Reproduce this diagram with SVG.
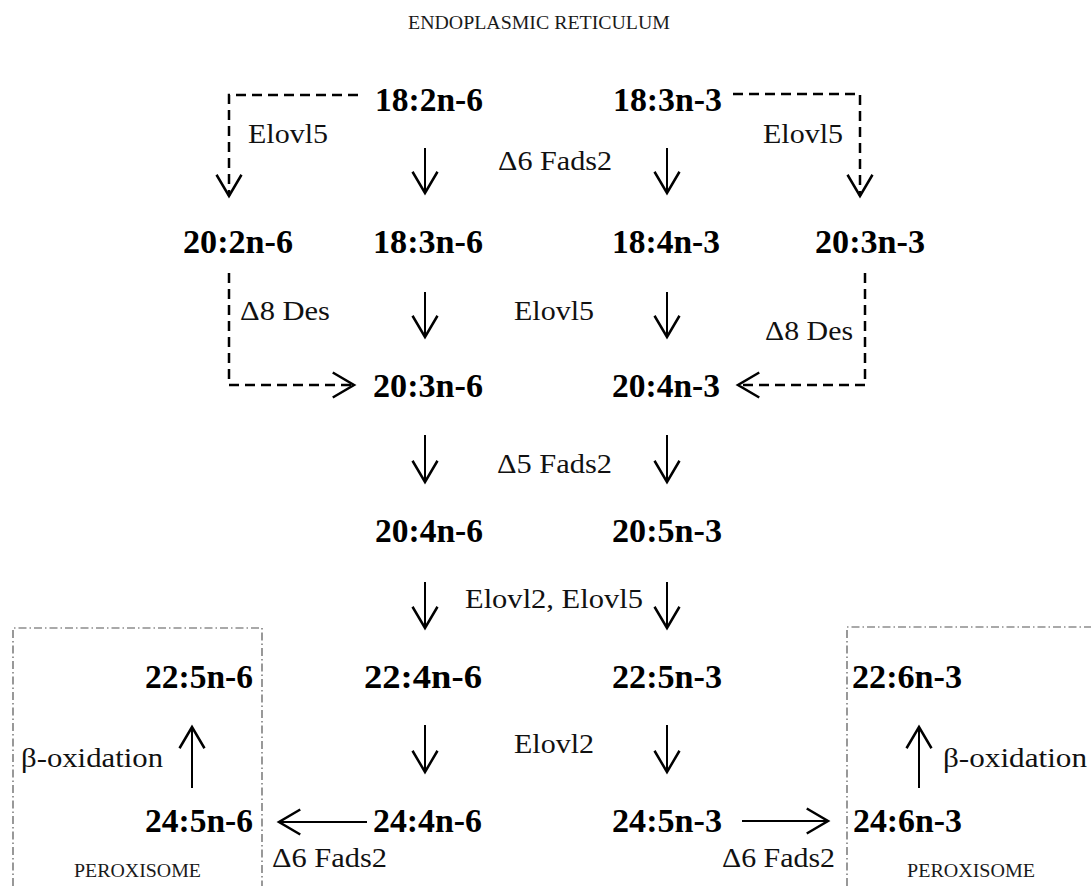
<svg xmlns="http://www.w3.org/2000/svg" width="1091" height="886" viewBox="0 0 1091 886">
<style>
text{font-family:"Liberation Serif",serif}
.node{font-weight:bold;font-size:34px;fill:#000}
.lbl{font-size:27px;fill:#111}
.cap{font-size:19px;fill:#1a1a1a}
.solid{fill:none;stroke:#000;stroke-width:2}
.dash{fill:none;stroke:#000;stroke-width:2.5;stroke-dasharray:10 6}
.box{fill:none;stroke:#555;stroke-width:1.2;stroke-dasharray:8 3 1.5 3}
</style>
<defs>
<marker id="ah" markerUnits="userSpaceOnUse" markerWidth="30" markerHeight="30" viewBox="-20 -12 22 24" refX="0" refY="0" orient="auto">
<path d="M-17,-10 L0,0 L-17,10" fill="none" stroke="#000" stroke-width="2"/>
</marker>
</defs>
<rect width="1091" height="886" fill="#fff"/>
<text class="cap" x="408" y="29" textLength="262" lengthAdjust="spacingAndGlyphs">ENDOPLASMIC RETICULUM</text>
<g id="compartments">
<path class="box" d="M13,886 V628 H262 V886"/>
<path class="box" d="M847,886 V627 H1091"/>
<text class="cap" x="74" y="877" font-size="17" textLength="127" lengthAdjust="spacingAndGlyphs">PEROXISOME</text>
<text class="cap" x="907" y="877" font-size="17" textLength="128" lengthAdjust="spacingAndGlyphs">PEROXISOME</text>
</g>
<g id="connectors">
<path class="dash" d="M358,95 H229 V196" marker-end="url(#ah)"/>
<path class="dash" d="M733,94 H860 V196" marker-end="url(#ah)"/>
<path class="dash" d="M229,273 V385 H354" marker-end="url(#ah)"/>
<path class="dash" d="M865,273 V385 H738" marker-end="url(#ah)"/>
<path class="solid" d="M425,148 V193" marker-end="url(#ah)"/>
<path class="solid" d="M667,148 V193" marker-end="url(#ah)"/>
<path class="solid" d="M425,292 V337" marker-end="url(#ah)"/>
<path class="solid" d="M667,292 V337" marker-end="url(#ah)"/>
<path class="solid" d="M425,435 V482" marker-end="url(#ah)"/>
<path class="solid" d="M667,435 V482" marker-end="url(#ah)"/>
<path class="solid" d="M425,582 V628" marker-end="url(#ah)"/>
<path class="solid" d="M667,582 V628" marker-end="url(#ah)"/>
<path class="solid" d="M425,725 V772" marker-end="url(#ah)"/>
<path class="solid" d="M667,725 V772" marker-end="url(#ah)"/>
<path class="solid" d="M367,822 H279" marker-end="url(#ah)"/>
<path class="solid" d="M742,821 H828" marker-end="url(#ah)"/>
<path class="solid" d="M192,788 V727" marker-end="url(#ah)"/>
<path class="solid" d="M919,788 V727" marker-end="url(#ah)"/>
</g>
<g id="labels">
<text class="lbl" x="248" y="143" textLength="80" lengthAdjust="spacingAndGlyphs">Elovl5</text>
<text class="lbl" x="763" y="143" textLength="80" lengthAdjust="spacingAndGlyphs">Elovl5</text>
<text class="lbl" x="498" y="170" textLength="114" lengthAdjust="spacingAndGlyphs">Δ6 Fads2</text>
<text class="lbl" x="514" y="320" textLength="80" lengthAdjust="spacingAndGlyphs">Elovl5</text>
<text class="lbl" x="240" y="320" textLength="90" lengthAdjust="spacingAndGlyphs">Δ8 Des</text>
<text class="lbl" x="765" y="340" textLength="88" lengthAdjust="spacingAndGlyphs">Δ8 Des</text>
<text class="lbl" x="497" y="473" textLength="115" lengthAdjust="spacingAndGlyphs">Δ5 Fads2</text>
<text class="lbl" x="465" y="608" textLength="178" lengthAdjust="spacingAndGlyphs">Elovl2, Elovl5</text>
<text class="lbl" x="514" y="753" textLength="80" lengthAdjust="spacingAndGlyphs">Elovl2</text>
<text class="lbl" x="21" y="767" textLength="142" lengthAdjust="spacingAndGlyphs">β-oxidation</text>
<text class="lbl" x="943" y="767" textLength="144" lengthAdjust="spacingAndGlyphs">β-oxidation</text>
<text class="lbl" x="272" y="867" textLength="115" lengthAdjust="spacingAndGlyphs">Δ6 Fads2</text>
<text class="lbl" x="722" y="867" textLength="113" lengthAdjust="spacingAndGlyphs">Δ6 Fads2</text>
</g>
<g id="n18_2n6"><text class="node" x="375" y="111" textLength="108" lengthAdjust="spacingAndGlyphs">18:2n-6</text></g>
<g id="n18_3n3"><text class="node" x="613" y="111" textLength="109" lengthAdjust="spacingAndGlyphs">18:3n-3</text></g>
<g id="n20_2n6"><text class="node" x="183" y="253" textLength="110" lengthAdjust="spacingAndGlyphs">20:2n-6</text></g>
<g id="n18_3n6"><text class="node" x="373" y="253" textLength="110" lengthAdjust="spacingAndGlyphs">18:3n-6</text></g>
<g id="n18_4n3"><text class="node" x="612" y="253" textLength="108" lengthAdjust="spacingAndGlyphs">18:4n-3</text></g>
<g id="n20_3n3"><text class="node" x="815" y="253" textLength="110" lengthAdjust="spacingAndGlyphs">20:3n-3</text></g>
<g id="n20_3n6"><text class="node" x="373" y="397" textLength="110" lengthAdjust="spacingAndGlyphs">20:3n-6</text></g>
<g id="n20_4n3"><text class="node" x="612" y="397" textLength="108" lengthAdjust="spacingAndGlyphs">20:4n-3</text></g>
<g id="n20_4n6"><text class="node" x="375" y="542" textLength="108" lengthAdjust="spacingAndGlyphs">20:4n-6</text></g>
<g id="n20_5n3"><text class="node" x="612" y="542" textLength="110" lengthAdjust="spacingAndGlyphs">20:5n-3</text></g>
<g id="n22_5n6"><text class="node" x="145" y="688" textLength="108" lengthAdjust="spacingAndGlyphs">22:5n-6</text></g>
<g id="n22_4n6"><text class="node" x="364" y="688" textLength="118" lengthAdjust="spacingAndGlyphs">22:4n-6</text></g>
<g id="n22_5n3"><text class="node" x="612" y="688" textLength="110" lengthAdjust="spacingAndGlyphs">22:5n-3</text></g>
<g id="n22_6n3"><text class="node" x="852" y="688" textLength="110" lengthAdjust="spacingAndGlyphs">22:6n-3</text></g>
<g id="n24_5n6"><text class="node" x="145" y="832" textLength="108" lengthAdjust="spacingAndGlyphs">24:5n-6</text></g>
<g id="n24_4n6"><text class="node" x="373" y="832" textLength="109" lengthAdjust="spacingAndGlyphs">24:4n-6</text></g>
<g id="n24_5n3"><text class="node" x="612" y="832" textLength="110" lengthAdjust="spacingAndGlyphs">24:5n-3</text></g>
<g id="n24_6n3"><text class="node" x="853" y="832" textLength="109" lengthAdjust="spacingAndGlyphs">24:6n-3</text></g>
</svg>
